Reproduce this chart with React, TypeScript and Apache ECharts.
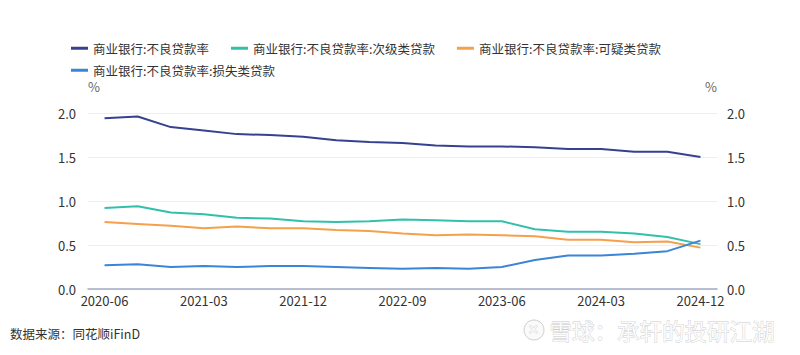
import React, { useEffect, useRef } from "react";
import * as echarts from "echarts";

const categories = [
  "2020-06", "2020-09", "2020-12", "2021-03", "2021-06", "2021-09", "2021-12",
  "2022-03", "2022-06", "2022-09", "2022-12", "2023-03", "2023-06", "2023-09",
  "2023-12", "2024-03", "2024-06", "2024-09", "2024-12",
];
const totalNpl = [1.94, 1.96, 1.84, 1.8, 1.76, 1.75, 1.73, 1.69, 1.67, 1.66, 1.63, 1.62, 1.62, 1.61, 1.59, 1.59, 1.56, 1.56, 1.5];
const substandard = [0.92, 0.94, 0.87, 0.85, 0.81, 0.8, 0.77, 0.76, 0.77, 0.79, 0.78, 0.77, 0.77, 0.68, 0.65, 0.65, 0.63, 0.59, 0.51];
const doubtful = [0.76, 0.74, 0.72, 0.69, 0.71, 0.69, 0.69, 0.67, 0.66, 0.63, 0.61, 0.62, 0.61, 0.6, 0.56, 0.56, 0.53, 0.54, 0.47];
const loss = [0.27, 0.28, 0.25, 0.26, 0.25, 0.26, 0.26, 0.25, 0.24, 0.23, 0.24, 0.23, 0.25, 0.33, 0.38, 0.38, 0.4, 0.43, 0.55];
const seriesNames = [
  "商业银行:不良贷款率",
  "商业银行:不良贷款率:次级类贷款",
  "商业银行:不良贷款率:可疑类贷款",
  "商业银行:不良贷款率:损失类贷款",
];
const colors = ["#36428f", "#32c0ab", "#f6a04c", "#3b85d6"];
const FONT = "'Noto Sans CJK SC', 'Noto Sans', sans-serif";

export default function App() {
  const ref = useRef<HTMLDivElement>(null);
  useEffect(() => {
    if (!ref.current) return;
    const chart = echarts.init(ref.current, null, { renderer: "svg" });
    const dataSets = [totalNpl, substandard, doubtful, loss];
    const yAxisCommon = {
      type: "value",
      min: 0,
      max: 2,
      interval: 0.5,
      name: "%",
      nameGap: 20,
      axisLine: { show: false },
      axisTick: { show: false },
      axisLabel: {
        color: "#333",
        fontSize: 13,
        fontFamily: FONT,
        formatter: (v: number) => v.toFixed(1),
      },
    };
    const legendCommon = {
      left: 66,
      itemWidth: 17,
      itemHeight: 3,
      itemGap: 22,
      icon: "rect",
      textStyle: { color: "#333", fontSize: 12.5, fontFamily: FONT },
    };
    chart.setOption({
      animation: false,
      backgroundColor: "#fff",
      color: colors,
      legend: [
        { ...legendCommon, top: 37, data: seriesNames.slice(0, 3) },
        { ...legendCommon, top: 59, data: seriesNames.slice(3) },
      ],
      grid: { left: 88, right: 83, top: 113, bottom: 66, containLabel: false },
      xAxis: {
        type: "category",
        data: categories,
        boundaryGap: true,
        axisLine: { lineStyle: { color: "#a3abc3", width: 1.5 } },
        axisTick: { show: false },
        axisLabel: {
          color: "#333",
          fontSize: 13,
          fontFamily: FONT,
          interval: 2,
          margin: 5,
        },
      },
      yAxis: [
        {
          ...yAxisCommon,
          position: "left",
          nameTextStyle: { color: "#666", fontSize: 13, fontFamily: FONT, align: "left" },
          splitLine: { lineStyle: { color: "#eceef5", width: 1 } },
          axisLabel: { ...yAxisCommon.axisLabel, margin: 12 },
        },
        {
          ...yAxisCommon,
          position: "right",
          nameTextStyle: { color: "#666", fontSize: 13, fontFamily: FONT, align: "right" },
          splitLine: { show: false },
          axisLabel: { ...yAxisCommon.axisLabel, margin: 10 },
        },
      ],
      series: dataSets.map((d, i) => ({
        name: seriesNames[i],
        type: "line",
        data: d,
        yAxisIndex: 0,
        symbol: "none",
        lineStyle: { width: 2, color: colors[i] },
        itemStyle: { color: colors[i] },
      })),
      graphic: [
        {
          type: "text",
          left: 10,
          top: 327,
          style: {
            text: "数据来源：同花顺iFinD",
            fill: "#333",
            fontSize: 12.5,
            fontFamily: FONT,
          },
        },
        {
          type: "circle",
          shape: { cx: 534, cy: 330, r: 10 },
          style: { fill: "#fafafa", stroke: "#cfcfcf", lineWidth: 1 },
        },
        {
          type: "text",
          left: 528,
          top: 322,
          style: { text: "✕", fill: "#fafafa", stroke: "#cfcfcf", lineWidth: 0.8, fontSize: 13, fontFamily: FONT },
        },
        {
          type: "text",
          left: 549,
          top: 318,
          style: {
            text: "雪球：承轩的投研江湖",
            fill: "#fbfbfb",
            stroke: "#cccccc",
            lineWidth: 0.8,
            fontSize: 22.5,
            fontFamily: FONT,
          },
        },
      ],
    });
    return () => chart.dispose();
  }, []);
  return (
    <div
      ref={ref}
      style={{ position: "absolute", left: 0, top: 0, width: 800, height: 355 }}
    />
  );
}
